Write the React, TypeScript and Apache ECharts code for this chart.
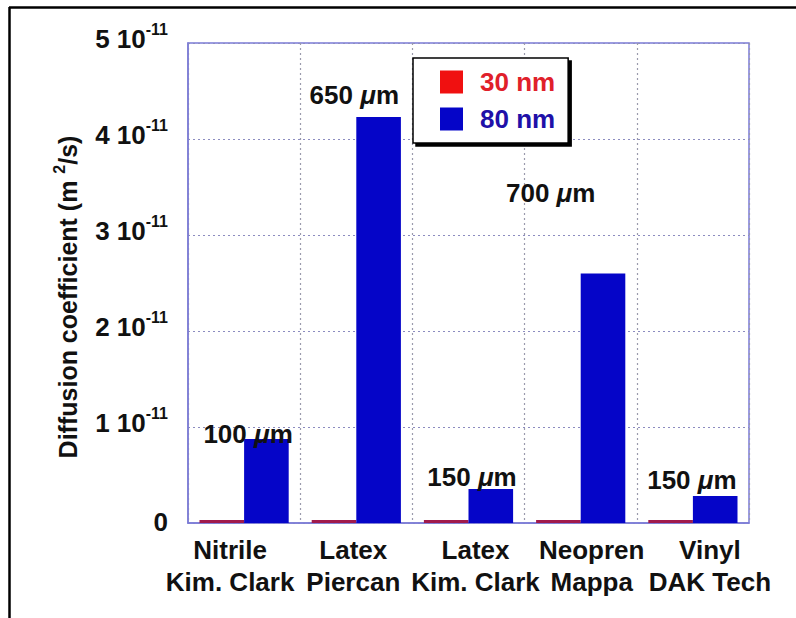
import React, { useEffect, useRef } from "react";
import * as echarts from "echarts";

const categories = [
  "Nitrile\nKim. Clark",
  "Latex\nPiercan",
  "Latex\nKim. Clark",
  "Neopren\nMappa",
  "Vinyl\nDAK Tech",
];
const values30nm = [3e-13, 3e-13, 3e-13, 3e-13, 3e-13];
const values80nm = [0.875e-11, 4.23e-11, 0.354e-11, 2.6e-11, 0.28e-11];
const yMin = 0;
const yMax = 5e-11;
const yInterval = 1e-11;
const thicknessTexts = ["100", "650", "150", "700", "150"];
const thicknessValues = [0.927e-11, 4.458e-11, 0.479e-11, 3.44e-11, 0.448e-11];

const FONT = "'Liberation Sans', Arial, Helvetica, sans-serif";
const RED = "#f01010";
const RED_TEXT = "#e0202a";
const BLUE = "#0505c8";
const BLUE_TEXT = "#2010a8";
const BAR_RED = "#a01a4c";
const INK = "#111111";
const FS = 26;

export default function App() {
  const ref = useRef<HTMLDivElement>(null);
  useEffect(() => {
    document.body.style.margin = "0";
    const chart = echarts.init(ref.current!, null, { renderer: "svg" });
    const labelShiftX = [4, -2, 3.5, -30, -1];
    const catShiftX = [-14, -3, 7, 11, 17];
    const bold = { fontFamily: FONT, fontWeight: "bold", color: INK, textBorderWidth: 0 };
    const option: any = {
      animation: false,
      backgroundColor: "#ffffff",
      textStyle: { fontFamily: FONT },
      grid: {
        left: 188,
        top: 43,
        right: 47,
        bottom: 95,
        show: true,
        borderColor: "#7b7bd6",
        borderWidth: 1.5,
        backgroundColor: "transparent",
      },
      legend: {
        orient: "vertical",
        left: 413,
        top: 58,
        padding: [11, 13, 11, 27],
        itemWidth: 23,
        itemHeight: 23,
        itemGap: 11,
        backgroundColor: "#ffffff",
        borderColor: "#000000",
        borderWidth: 1.5,
        borderRadius: 0,
        shadowColor: "#000000",
        shadowOffsetX: 3,
        shadowOffsetY: 3,
        shadowBlur: 0,
        selectedMode: false,
        textStyle: {
          fontFamily: FONT,
          fontWeight: "bold",
          fontSize: FS,
          padding: [0, 0, 0, 12],
        },
        data: [
          { name: "30 nm", icon: "rect", itemStyle: { color: RED }, textStyle: { color: RED_TEXT } },
          { name: "80 nm", icon: "rect", itemStyle: { color: BLUE }, textStyle: { color: BLUE_TEXT } },
        ],
      },
      xAxis: {
        type: "category",
        data: categories.map((c, i) => {
          const s = catShiftX[i];
          return {
            value: c,
            textStyle: { padding: s >= 0 ? [0, 0, 0, 2 * s] : [0, -2 * s, 0, 0] },
          };
        }),
        axisLine: { show: true, lineStyle: { color: "#7b7bd6", width: 1.5 } },
        axisTick: { show: false },
        splitLine: {
          show: true,
          lineStyle: { color: "#9a9aac", type: [2, 3], width: 1.2 },
        },
        axisLabel: {
          interval: 0,
          margin: 11,
          color: INK,
          fontFamily: FONT,
          fontWeight: "bold",
          fontSize: FS,
          lineHeight: 32,
        },
      },
      yAxis: {
        type: "value",
        min: yMin,
        max: yMax,
        interval: yInterval,
        name: "{a|Diffusion coefficient (m }{s|2}{a|/s)}",
        nameLocation: "middle",
        nameGap: 108,
        nameRotate: 90,
        nameTextStyle: {
          padding: [0, 28, 0, 0],
          rich: {
            a: { ...bold, fontSize: 25 },
            s: { ...bold, fontSize: 16, lineHeight: 16, padding: [0, 0, 16, 0] },
          },
        },
        axisLine: { show: true, lineStyle: { color: "#7b7bd6", width: 1.5 } },
        axisTick: { show: false },
        splitLine: {
          show: true,
          lineStyle: { color: "#8c8cc0", type: [2, 3], width: 1.2 },
        },
        axisLabel: {
          margin: 20,
          formatter: (v: number) => {
            const n = Math.round(v / yInterval);
            return n === 0 ? "{z|0}" : `{n|${n} 10}{s|-11}`;
          },
          rich: {
            z: { ...bold, fontSize: FS, padding: [0, 0, 3, 0] },
            n: { ...bold, fontSize: FS, padding: [0, 0, 8, 0] },
            s: { ...bold, fontSize: 16, lineHeight: 16, padding: [0, 0, 28, 0] },
          },
        },
      },
      series: [
        {
          name: "30 nm",
          type: "bar",
          data: values30nm,
          barGap: "0%",
          barCategoryGap: "20.5%",
          itemStyle: { color: BAR_RED },
        },
        {
          name: "80 nm",
          type: "bar",
          data: values80nm,
          barGap: "0%",
          barCategoryGap: "20.5%",
          itemStyle: { color: BLUE },
        },
        {
          name: "thickness",
          type: "scatter",
          symbolSize: 0,
          silent: true,
          z: 5,
          itemStyle: { color: INK, opacity: 1 },
          data: thicknessTexts.map((t, i) => ({
            value: [i, thicknessValues[i]],
            label: {
              show: true,
              position: "inside",
              offset: [labelShiftX[i], 0],
              color: INK,
              textBorderWidth: 0,
              textBorderColor: "transparent",
              formatter: `{n|${t} }{i|μ}{n|m}`,
              rich: {
                n: { ...bold, fontSize: FS },
                i: { ...bold, fontStyle: "italic", fontSize: FS },
              },
            },
          })),
        },
      ],
      graphic: [
        {
          type: "line",
          shape: { x1: 9, y1: 7.5, x2: 796, y2: 7.5 },
          style: { stroke: "#000000", lineWidth: 2.5 },
          silent: true,
        },
        {
          type: "line",
          shape: { x1: 9.5, y1: 7, x2: 9.5, y2: 618 },
          style: { stroke: "#000000", lineWidth: 2.5 },
          silent: true,
        },
      ],
    };
    chart.setOption(option);
    return () => chart.dispose();
  }, []);
  return <div ref={ref} style={{ width: 796, height: 618 }} />;
}
